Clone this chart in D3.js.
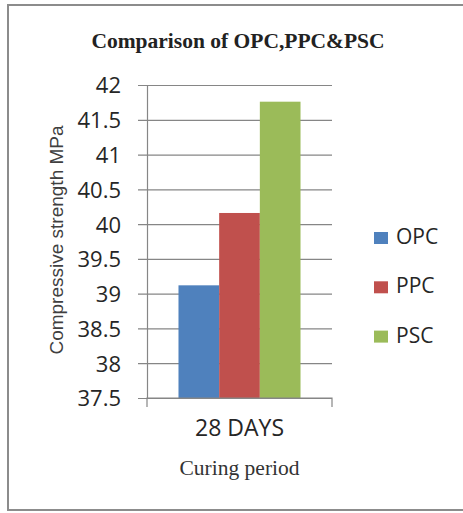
<!DOCTYPE html>
<html>
<head>
<meta charset="utf-8">
<script src="https://cdn.jsdelivr.net/npm/d3@7"></script>
<style>
  body { margin: 0; background: #fff; }
  svg { display: block; }
</style>
</head>
<body>
<div id="chart"></div>
<script>
// Data
const categories = ["28 DAYS"];
const seriesNames = ["OPC", "PPC", "PSC"];
const opcValues = [39.12];
const ppcValues = [40.16];
const pscValues = [41.76];
const yTicks = [37.5, 38, 38.5, 39, 39.5, 40, 40.5, 41, 41.5, 42];

const seriesColors = ["#4F81BD", "#C0504D", "#9BBB59"];
const seriesValues = [opcValues, ppcValues, pscValues];

const width = 463, height = 513;
const plot = { left: 147, right: 332, top: 85, bottom: 398 };
const sansFont = "'Open Sans', sans-serif";

const svg = d3.select("#chart")
    .append("svg")
    .attr("width", width)
    .attr("height", height);

// outer frame
svg.append("rect")
    .attr("x", 8)
    .attr("y", 5)
    .attr("width", width + 10)
    .attr("height", 505)
    .attr("fill", "#fff")
    .attr("stroke", "#8c8c8c")
    .attr("stroke-width", 2);

// Title
svg.append("text")
    .attr("x", 238)
    .attr("y", 48)
    .attr("text-anchor", "middle")
    .style("font-family", "'Liberation Serif', 'Times New Roman', serif")
    .style("font-weight", "bold")
    .style("font-size", "21.5px")
    .style("fill", "#222")
    .text("Comparison of OPC,PPC&PSC");

const y = d3.scaleLinear()
    .domain([37.5, 42])
    .range([plot.bottom, plot.top]);

const x0 = d3.scaleBand()
    .domain(categories)
    .range([plot.left, plot.right])
    .paddingInner(0)
    .paddingOuter(0.258);

const x1 = d3.scaleBand()
    .domain(seriesNames)
    .range([0, x0.bandwidth()]);

// y axis with gridlines
const yAxis = svg.append("g")
    .attr("transform", `translate(${plot.left},0)`)
    .call(d3.axisLeft(y).tickValues(yTicks).tickFormat(d => d).tickSizeOuter(0));

yAxis.select(".domain")
    .attr("stroke", "#868686")
    .attr("stroke-width", 1.2);

yAxis.selectAll(".tick line")
    .attr("x1", -9)
    .attr("x2", plot.right - plot.left)
    .attr("stroke", "#868686")
    .attr("stroke-width", 1.2);

yAxis.selectAll(".tick text")
    .attr("x", -26)
    .attr("dy", "0.36em")
    .style("font-family", sansFont)
    .style("font-size", "22px")
    .style("fill", "#262626");

// bars
const bars = svg.append("g");
categories.forEach((cat, ci) => {
    seriesNames.forEach((s, si) => {
        const v = seriesValues[si][ci];
        bars.append("rect")
            .attr("x", x0(cat) + x1(s))
            .attr("y", y(v))
            .attr("width", x1.bandwidth())
            .attr("height", y(37.5) - y(v))
            .attr("fill", seriesColors[si]);
    });
});

// x axis
const xAxis = svg.append("g")
    .attr("transform", `translate(0,${plot.bottom})`)
    .call(d3.axisBottom(x0).tickSize(0).tickSizeOuter(9).tickPadding(22));

xAxis.select(".domain")
    .attr("stroke", "#868686")
    .attr("stroke-width", 1.2)
    .attr("d", `M${plot.left},9V0H${plot.right}V9`);

xAxis.selectAll(".tick text")
    .attr("dy", "0.71em")
    .style("font-family", sansFont)
    .style("font-size", "23px")
    .style("fill", "#262626");

// axis titles
svg.append("text")
    .attr("x", 239.5)
    .attr("y", 475)
    .attr("text-anchor", "middle")
    .style("font-family", "'Liberation Serif', 'Times New Roman', serif")
    .style("font-size", "21.5px")
    .style("fill", "#333")
    .text("Curing period");

svg.append("text")
    .attr("transform", "translate(63,240) rotate(-90)")
    .attr("text-anchor", "middle")
    .style("font-family", "'Liberation Sans', Arial, sans-serif")
    .style("font-size", "19px")
    .style("fill", "#404040")
    .text("Compressive strength MPa");

// legend
const legend = svg.append("g")
    .attr("transform", "translate(374,244)");

const legendItems = legend.selectAll("g")
    .data(seriesNames)
    .enter()
    .append("g")
    .attr("transform", (d, i) => `translate(0, ${i * 49.3})`);

legendItems.append("rect")
    .attr("x", 0)
    .attr("y", -12)
    .attr("width", 14)
    .attr("height", 12)
    .attr("fill", (d, i) => seriesColors[i]);

legendItems.append("text")
    .attr("x", 22)
    .attr("y", 0)
    .style("font-family", sansFont)
    .style("font-size", "21px")
    .style("fill", "#262626")
    .text(d => d);
</script>
</body>
</html>
